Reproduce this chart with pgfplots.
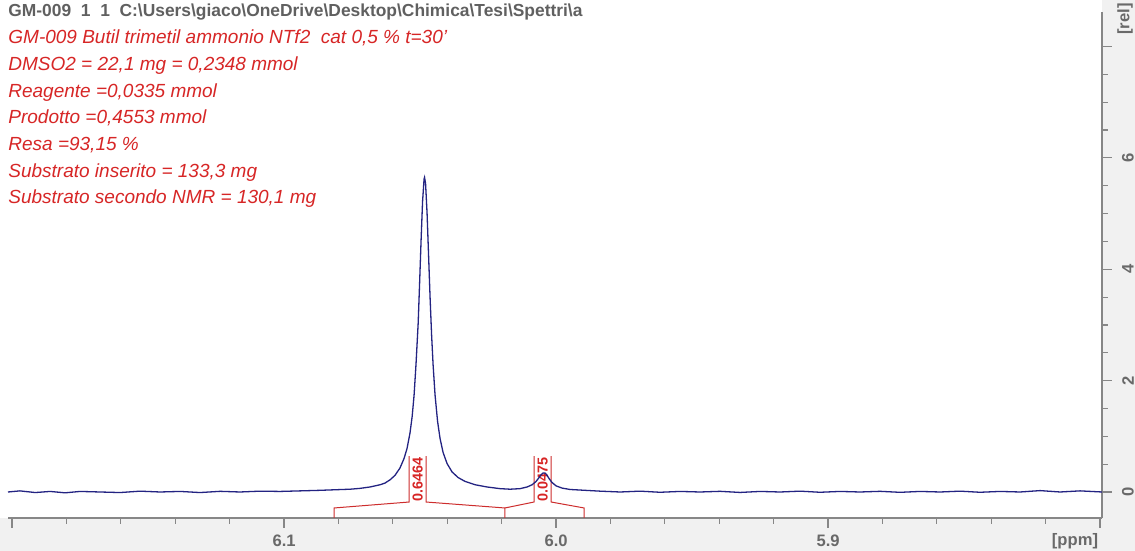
\documentclass[border=0pt]{standalone}
\usepackage{pgfplots}
\pgfplotsset{compat=1.18}
\usepackage{fontspec}
\setmainfont{Liberation Sans}
\definecolor{hdr}{RGB}{96,96,96}
\definecolor{txtred}{RGB}{215,38,38}
\definecolor{intred}{RGB}{205,45,45}
\definecolor{spec}{RGB}{35,35,130}
\definecolor{axgray}{RGB}{135,135,135}
\definecolor{lblgray}{RGB}{105,105,105}
\definecolor{bggray}{RGB}{241,241,241}
\begin{document}
\begin{tikzpicture}[x=1pt,y=1pt]
\useasboundingbox (0,0) rectangle (567.5,275.5);
\fill[bggray] (0,0) rectangle (567.5,275.5);
\fill[white] (0,16.5) rectangle (551,275.5);
\begin{axis}[
  at={(4pt,16.5pt)}, anchor=south west,
  scale only axis, width=547pt, height=253pt,
  x dir=reverse,
  xmin=5.7993, xmax=6.2015,
  ymin=-0.467, ymax=8.62,
  axis x line*=bottom, axis y line*=right,
  axis line style={axgray, line width=0.6pt},
  tick align=outside,
  xtick={5.8,5.9,6.0,6.1,6.2},
  xticklabels={,5.9,6.0,6.1,},
  minor x tick num=4,
  ytick={0,2,4,6,8},
  yticklabels={0,2,4,6,},
  minor y tick num=3,
  major tick length=5pt, minor tick length=3pt,
  every tick/.style={axgray, line width=0.6pt},
  /pgf/number format/assume math mode=true,
  xticklabel style={font=\fontsize{8.3}{9}\selectfont\bfseries, text=lblgray},
  yticklabel style={font=\fontsize{8.3}{9}\selectfont\bfseries, text=lblgray, anchor=center, xshift=8pt, rotate=90},
  clip=false,
]
% integral traces
\addplot[intred, line width=0.5pt] coordinates {(6.0816,-0.467) (6.0816,-0.287) (6.0540,-0.18) (6.0540,0.646)};
\addplot[intred, line width=0.5pt] coordinates {(6.0478,0.646) (6.0478,-0.18) (6.0188,-0.287) (6.0188,-0.467)};
\addplot[intred, line width=0.5pt] coordinates {(6.0188,-0.287) (6.0081,-0.18) (6.0081,0.646)};
\addplot[intred, line width=0.5pt] coordinates {(6.0018,0.646) (6.0018,-0.18) (5.9897,-0.287) (5.9897,-0.467)};
\node[rotate=90, font=\fontsize{7.2}{8}\selectfont\bfseries, text=txtred, inner sep=0] at (axis cs:6.0509,0.233) {0.6464};
\node[rotate=90, font=\fontsize{7.2}{8}\selectfont\bfseries, text=txtred, inner sep=0] at (axis cs:6.00496,0.233) {0.0475};
% spectrum
\addplot[spec, line width=0.65pt] coordinates {
(6.2015,0.00) (6.1971,0.02) (6.1915,-0.01) (6.1860,0.01) (6.1805,-0.015) (6.1750,0.01)
(6.1676,0.0) (6.1603,-0.01) (6.1529,0.015) (6.1456,0.0) (6.1382,0.01) (6.1309,-0.01)
(6.1235,0.012) (6.1162,0.0) (6.1088,0.015) (6.1015,0.01) (6.0941,0.02) (6.0868,0.03)
(6.0813,0.04) (6.0757,0.05) (6.0721,0.065) (6.0684,0.09) (6.0647,0.13) (6.0629,0.16)
(6.0610,0.22) (6.0592,0.30) (6.0574,0.43) (6.0559,0.60) (6.0548,0.78) (6.0537,1.06)
(6.0529,1.36) (6.0522,1.74) (6.0515,2.29) (6.0507,3.03) (6.05018,3.74) (6.04963,4.52)
(6.04908,5.22) (6.04853,5.62) (6.04835,5.65) (6.04798,5.54) (6.04743,5.01) (6.04688,4.26)
(6.04632,3.49) (6.04577,2.83) (6.04522,2.29) (6.04449,1.74) (6.04357,1.27) (6.04265,0.96)
(6.04154,0.71) (6.04007,0.51) (6.03824,0.36) (6.03603,0.26) (6.03346,0.19) (6.02978,0.13)
(6.02537,0.09) (6.02059,0.06) (6.01691,0.05) (6.01324,0.06) (6.01066,0.09) (6.00882,0.13)
(6.00735,0.19) (6.00625,0.26) (6.00551,0.31) (6.00478,0.34) (6.00404,0.34) (6.00331,0.30)
(6.00257,0.24) (6.00147,0.17) (6.0,0.11) (5.99779,0.07) (5.99485,0.045) (5.98934,0.03)
(5.98382,0.015) (5.97647,0.0) (5.96912,0.015) (5.96176,-0.005) (5.95441,0.01) (5.94706,0.0)
(5.93971,0.012) (5.93235,-0.008) (5.92500,0.01) (5.91765,0.0) (5.91029,0.015) (5.90294,-0.005)
(5.89559,0.01) (5.88824,0.0) (5.88088,0.012) (5.87353,-0.006) (5.86618,0.01) (5.85882,0.0)
(5.85147,0.015) (5.84412,-0.005) (5.83676,0.01) (5.82941,0.0) (5.82206,0.025) (5.81471,0.0)
(5.80735,0.02) (5.79926,0.0)
};
\end{axis}
\node[anchor=west, inner sep=0, text=hdr, font=\fontsize{8.7}{10}\selectfont\bfseries] at (4,269.5) {GM-009\ \ 1\ \ 1\ \ C:\textbackslash Users\textbackslash giaco\textbackslash OneDrive\textbackslash Desktop\textbackslash Chimica\textbackslash Tesi\textbackslash Spettri\textbackslash a};
\begin{scope}[every node/.style={anchor=base west, inner sep=0, text=txtred, font=\fontsize{9.5}{11.5}\selectfont\itshape}]
\node at (4,253.6) {GM-009 Butil trimetil ammonio NTf2\ \ cat 0,5 \% t=30'};
\node at (4,240.27) {DMSO2 = 22,1 mg = 0,2348 mmol};
\node at (4,226.94) {Reagente =0,0335 mmol};
\node at (4,213.61) {Prodotto =0,4553 mmol};
\node at (4,200.28) {Resa =93,15 \%};
\node at (4,186.95) {Substrato inserito = 133,3 mg};
\node at (4,173.62) {Substrato secondo NMR = 130,1 mg};
\end{scope}
\node[font=\fontsize{8.3}{9}\selectfont\bfseries, text=lblgray, inner sep=0] at (537.5,5) {[ppm]};
\node[rotate=90, font=\fontsize{8.3}{9}\selectfont\bfseries, text=lblgray, inner sep=0] at (562.5,266) {[rel]};
\end{tikzpicture}
\end{document}
